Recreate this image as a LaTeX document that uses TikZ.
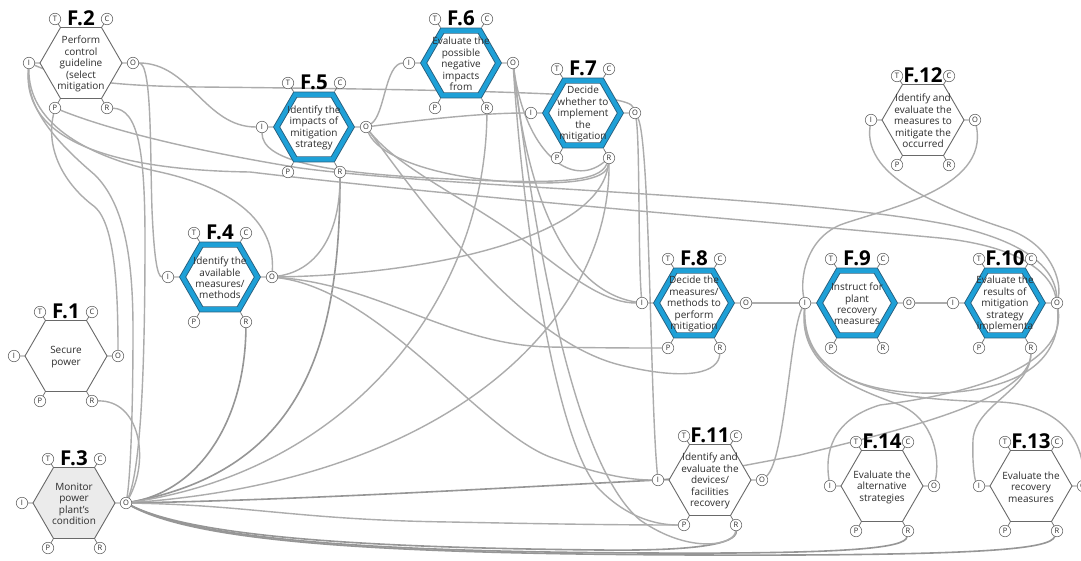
\documentclass[tikz,border=0pt]{standalone}
\usepackage{fontspec}
\setmainfont{Open Sans}
\pgfdeclarelayer{bg}
\pgfsetlayers{bg,main}
\definecolor{lnk}{RGB}{172,172,172}
\definecolor{lnkd}{RGB}{150,150,150}
\definecolor{hexgray}{RGB}{105,105,105}
\definecolor{hexdark}{RGB}{40,95,125}
\definecolor{hexblue}{RGB}{30,160,215}
\definecolor{txtc}{RGB}{45,45,45}
\definecolor{ffill}{RGB}{235,235,235}
\tikzset{
 link/.style={draw=lnk, line width=1.4pt},
 linkd/.style={draw=lnkd, line width=1.6pt},
 plainhex/.style={fill=white, draw=hexgray, line width=0.9pt},
 greyhex/.style={fill=ffill, draw=hexgray, line width=0.9pt},
 bluehex/.style={preaction={fill=white, draw=hexdark, line width=6.2pt}, draw=hexblue, line width=4.4pt},
 stub/.style={draw=hexgray, line width=0.7pt},
 port/.style={circle, draw=hexgray, fill=white, line width=0.6pt, inner sep=0pt, minimum size=11.5pt, font=\fontsize{7.5}{7.5}\selectfont, text=txtc},
 hextxt/.style={align=center, font=\fontsize{10}{11.4}\selectfont, text=txtc, inner sep=0pt},
 ttl/.style={anchor=base, font=\fontsize{20.5}{20.5}\selectfont\bfseries, inner sep=0pt, text=black}
}
% #1 name, #2 x, #3 y, #4 hex style, #5 radius, #6 title, #7 text
\newcommand\framfn[7]{%
 \begin{scope}[shift={(#2,#3)}]
  \path[#4] (-#5,0) -- (-#5/2,-#5*0.866) -- (#5/2,-#5*0.866) -- (#5,0) -- (#5/2,#5*0.866) -- (-#5/2,#5*0.866) -- cycle;
  \draw[stub] (-41,0) -- (-52,0) (41,0) -- (52,0) (-20.5,-35.5) -- (-26,-44) (20.5,-35.5) -- (26,-44) (-20.5,35.5) -- (-26,45) (20.5,35.5) -- (26,45);
  \node[port] (#1I) at (-52,0) {I};
  \node[port] (#1O) at (52,0) {O};
  \node[port] (#1T) at (-26,-44) {T};
  \node[port] (#1C) at (26,-44) {C};
  \node[port] (#1P) at (-26,45) {P};
  \node[port] (#1R) at (26,45) {R};
  \node[hextxt] (#1) at (0,1) {#7};
  \node[ttl] (#1t) at (0,-38) {#6};
 \end{scope}}
\begin{document}
\begin{tikzpicture}[x=1pt,y=-1pt]
\useasboundingbox (0,0) rectangle (1081,560);
\clip (0,0) rectangle (1081,560);
\framfn{f1}{66}{356}{plainhex}{41}{F.1}{Secure\\power}
\framfn{f2}{81}{63}{plainhex}{41}{F.2}{Perform\\control\\guideline\\(select\\mitigation}
\framfn{f3}{74}{503}{greyhex}{41}{F.3}{Monitor\\power\\plant’s\\condition}
\framfn{f4}{220}{277}{bluehex}{37.4}{F.4}{Identify the\\available\\measures/\\methods}
\framfn{f5}{314}{127}{bluehex}{37.4}{F.5}{Identify the\\impacts of\\mitigation\\strategy}
\framfn{f6}{461}{63}{bluehex}{37.4}{F.6}{Evaluate the\\possible\\negative\\impacts\\from}
\framfn{f7}{583}{113}{bluehex}{37.4}{F.7}{Decide\\whether to\\implement\\the\\mitigation}
\framfn{f8}{694}{303}{bluehex}{37.4}{F.8}{Decide the\\measures/\\methods to\\perform\\mitigation}
\framfn{f9}{857}{303}{bluehex}{37.4}{F.9}{Instruct for\\plant\\recovery\\measures}
\framfn{f10}{1005}{303}{bluehex}{37.4}{F.10}{Evaluate the\\results of\\mitigation\\strategy\\implementa}
\framfn{f11}{710}{480}{plainhex}{41}{F.11}{Identify and\\evaluate the\\devices/\\facilities\\recovery}
\framfn{f12}{923}{120}{plainhex}{41}{F.12}{Identify and\\evaluate the\\measures to\\mitigate the\\occurred}
\framfn{f13}{1031}{486}{plainhex}{41}{F.13}{Evaluate the\\recovery\\measures}
\framfn{f14}{882}{486}{plainhex}{41}{F.14}{Evaluate the\\alternative\\strategies}
\begin{pgfonlayer}{bg}
\clip (0,0) rectangle (1081,560);
\fill[white] (0,0) rectangle (1081,560);
% F.2
\draw[link] (f2O) .. controls (152,63) and (150,150) .. (152,210) .. controls (154,255) and (157,277) .. (f4I);
\draw[link] (f2O) .. controls (190,63) and (205,127) .. (f5I);
\draw[link] (f2R) .. controls (138,109) and (145,150) .. (145,240) .. controls (145,380) and (140,470) .. (f3O);
\draw[link] (f2I) .. controls (70,80) and (110,86) .. (200,87) .. controls (400,89) and (560,92) .. (605,98) .. controls (625,101) and (632,104) .. (f7O);
\draw[link] (f2P) .. controls (110,130) and (190,150) .. (300,168) .. controls (450,188) and (800,195) .. (950,225) .. controls (1020,240) and (1055,265) .. (f10O);
\draw[link] (f2I) .. controls (22,140) and (110,170) .. (250,172) .. controls (450,196) and (750,220) .. (940,238) .. controls (1010,245) and (1050,268) .. (f10O);
\draw[link] (f2I) .. controls (28,120) and (80,155) .. (160,172) .. controls (240,190) and (275,225) .. (f4O);
\draw[link] (f2I) .. controls (25,110) and (60,145) .. (95,175) .. controls (125,205) and (133,260) .. (133,330) .. controls (133,420) and (130,480) .. (f3O);
\draw[link] (f2P) .. controls (45,150) and (65,185) .. (95,207) .. controls (115,225) and (118,290) .. (f1O);
% F.1, F.3
\draw[link] (f1R) .. controls (140,400) and (150,460) .. (f3O);
\draw[linkd] (f4R) .. controls (245,420) and (200,490) .. (f3O);
\draw[linkd] (f5R) .. controls (340,350) and (300,470) .. (f3O);
\draw[link] (f6R) .. controls (485,300) and (350,470) .. (f3O);
\draw[link] (f7R) .. controls (610,320) and (450,480) .. (f3O);
\draw[linkd] (f3O) .. controls (300,500) and (500,488) .. (f11I);
\draw[link] (f3O) .. controls (250,505) and (300,520) .. (450,522) .. controls (550,524) and (620,525) .. (f11P);
\draw[linkd] (f3O) .. controls (200,540) and (400,548) .. (600,550) .. controls (690,551) and (737,545) .. (f11R);
\draw[linkd] (f3O) .. controls (200,542) and (400,552) .. (650,553) .. controls (850,554) and (905,548) .. (f14R);
\draw[linkd] (f3O) .. controls (200,544) and (400,554) .. (700,555) .. controls (1000,556) and (1050,548) .. (f13R);
% F.4
\draw[link] (f4O) .. controls (320,270) and (340,230) .. (f5R);
\draw[link] (f4O) .. controls (420,275) and (600,240) .. (f7R);
\draw[link] (f4O) .. controls (380,285) and (450,345) .. (550,347) .. controls (600,348) and (640,348) .. (f8P);
\draw[link] (f4O) .. controls (380,290) and (480,430) .. (550,457) .. controls (600,475) and (630,480) .. (f11I);
% F.5
\draw[link] (f5O) .. controls (385,115) and (385,63) .. (f6I);
\draw[link] (f5O) .. controls (420,120) and (480,113) .. (f7I);
\draw[link] (f5O) .. controls (380,160) and (450,182) .. (540,183) .. controls (590,183) and (608,175) .. (f7R);
\draw[link] (f5O) .. controls (400,170) and (470,200) .. (530,245) .. controls (580,285) and (610,303) .. (f8I);
\draw[link] (f5O) .. controls (420,200) and (520,340) .. (620,365) .. controls (690,382) and (719,372) .. (f8R);
\draw[link] (f5I) .. controls (262,160) and (320,172) .. (430,178) .. controls (560,185) and (600,182) .. (f7R);
% F.6
\draw[link] (f6O) .. controls (525,150) and (570,190) .. (f7R);
\draw[link] (f6O) .. controls (525,180) and (560,290) .. (f8I);
\draw[link] (f6O) .. controls (525,250) and (560,450) .. (600,490) .. controls (630,520) and (660,525) .. (f11P);
\draw[link] (f6O) .. controls (540,280) and (580,470) .. (640,520) .. controls (690,555) and (735,545) .. (f11R);
% F.7
\draw[link] (f7O) .. controls (640,140) and (638,260) .. (f8I);
\draw[link] (f7O) .. controls (650,140) and (650,400) .. (f11I);
% chain
\draw[link] (f8O) -- (f9I);
\draw[link] (f9O) -- (f10I);
\draw[link] (f11O) .. controls (785,460) and (790,330) .. (f9I);
\draw[link] (f10R) .. controls (1030,400) and (900,430) .. (800,455) .. controls (720,470) and (680,478) .. (f11I);
\draw[link] (f10R) .. controls (1030,390) and (975,405) .. (973,440) .. controls (972,465) and (975,480) .. (f13I);
% F.12
\draw[link] (f12I) .. controls (862,180) and (950,210) .. (1010,230) .. controls (1050,245) and (1062,280) .. (f10O);
\draw[link] (f12O) .. controls (990,190) and (880,210) .. (840,225) .. controls (805,240) and (800,280) .. (f9I);
% loops
\draw[link] (f9I) .. controls (800,380) and (880,395) .. (940,393) .. controls (1020,390) and (1062,360) .. (f10O);
\draw[link] (f9I) .. controls (798,370) and (860,390) .. (900,405) .. controls (935,420) and (940,460) .. (f14O);
\draw[link] (f10O) .. controls (1068,370) and (960,395) .. (880,405) .. controls (830,420) and (825,455) .. (f14I);
\draw[link] (f9I) .. controls (802,390) and (900,400) .. (1000,402) .. controls (1060,405) and (1085,440) .. (f13O);
\end{pgfonlayer}
\end{tikzpicture}
\end{document}
